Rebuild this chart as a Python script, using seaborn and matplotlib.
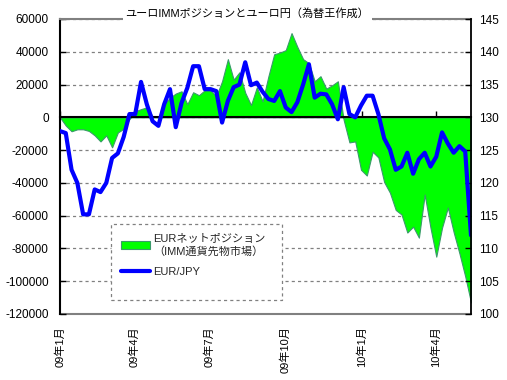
import matplotlib
matplotlib.use("Agg")
import matplotlib.pyplot as plt
import matplotlib.dates as mdates
from matplotlib.patches import Rectangle
import numpy as np
import pandas as pd
import seaborn as sns

# ---- data (weekly) ----
dates = pd.date_range("2009-01-01", periods=72, freq="7D")

net_position = [
    0, -5000, -8500, -7300, -7300, -8300, -11000, -14700, -11000, -18300,
    -9200, -7000, -1000, 3700, 5000, 6100, 600, 0, 8000, 12000,
    14500, 15900, 8000, 15300, 13500, 16500, 16500, 12900, 22000, 35500,
    23000, 27500, 15000, 7500, 18300, 9800, 25000, 38500, 39500, 41000,
    51400, 43000, 35500, 33000, 22000, 25100, 17500, 19500, 22000, -1500,
    -15300, -14700, -32000, -35500, -21000, -24500, -39500, -46000, -56500, -59300,
    -70300, -66700, -73400, -47100, -67300, -85000, -67300, -55000, -70000, -83000,
    -97000, -113000,
]

eurjpy = [
    127.9, 127.6, 122.0, 120.0, 115.2, 115.2, 119.0, 118.6, 120.0, 123.8,
    124.5, 127.0, 130.5, 130.5, 135.4, 132.0, 129.4, 128.7, 132.0, 134.3,
    128.5, 132.2, 134.5, 137.8, 137.8, 134.3, 134.3, 134.0, 129.2, 132.5,
    134.6, 135.0, 138.4, 134.9, 135.3, 133.9, 132.8, 132.5, 134.0, 131.5,
    130.8, 132.3, 135.0, 138.1, 133.0, 133.6, 133.5, 132.0, 129.7, 134.6,
    130.5, 130.0, 131.8, 133.3, 133.3, 130.5, 126.8, 125.1, 122.0, 122.5,
    124.6, 121.4, 123.6, 124.6, 122.5, 124.0, 127.7, 126.0, 124.6, 125.6,
    124.8, 112.0,
]

tick_dates = ["2009-01-01", "2009-04-01", "2009-07-01", "2009-10-01", "2010-01-01", "2010-04-01"]
tick_labels = ["09年1月", "09年4月", "09年7月", "09年10月", "10年1月", "10年4月"]

title = "ユーロIMMポジションとユーロ円（為替王作成）"
label_net = "EURネットポジション\n（IMM通貨先物市場）"
label_fx = "EUR/JPY"

left_ticks = list(range(-120000, 60001, 20000))
right_ticks = list(range(100, 146, 5))

# ---- style ----
sns.set_style("white")
plt.rcParams["font.family"] = ["Liberation Sans", "Noto Sans CJK JP", "DejaVu Sans"]
plt.rcParams["axes.unicode_minus"] = False

fig = plt.figure(figsize=(5.07, 3.80), dpi=100)
ax = fig.add_axes([0.1183, 0.1737, 0.8107, 0.7763])
ax2 = ax.twinx()

# area (net position) on left axis
ax.fill_between(dates, 0, net_position, facecolor="#00FF00", edgecolor="#3A9A6A",
                linewidth=0.8, label=label_net)

# line (EUR/JPY) on right axis
sns.lineplot(x=dates, y=eurjpy, ax=ax2, color="#0000FF", linewidth=3,
             label=label_fx, legend=False)

ax.set_xlim(dates[0], dates[-1])
ax.set_ylim(-120000, 60000)
ax.set_yticks(left_ticks)
ax2.set_ylim(100, 145)
ax2.set_yticks(right_ticks)
ax2.set_ylabel("")
ax2.set_xlabel("")

# grid
ax.set_axisbelow(True)
ax.yaxis.grid(True, color="#808080", linestyle=(0, (2.5, 2.5)), linewidth=0.9)
ax.xaxis.grid(False)
ax2.grid(False)

# spines
ax.spines["bottom"].set_position(("data", 0))
ax.spines["bottom"].set_color("black")
ax.spines["bottom"].set_linewidth(1.5)
ax.spines["left"].set_color("black")
ax.spines["left"].set_linewidth(1.5)
ax.spines["top"].set_color("#808080")
ax.spines["top"].set_linewidth(1.5)
ax.spines["right"].set_visible(False)
for s in ["top", "bottom", "left"]:
    ax2.spines[s].set_visible(False)
ax2.spines["right"].set_color("black")
ax2.spines["right"].set_linewidth(1.3)

# ticks
ax.set_xticks(pd.to_datetime(tick_dates))
ax.tick_params(axis="x", bottom=True, direction="in", length=4, width=1,
               color="black", labelbottom=False)
ax.tick_params(axis="y", left=True, direction="in", length=4, width=1,
               color="black", labelsize=8.5, pad=8, labelcolor="black")
ax2.tick_params(axis="y", right=True, direction="in", length=4, width=1,
                color="black", labelsize=8.5, pad=6, labelcolor="black")
ax2.tick_params(axis="x", bottom=False, labelbottom=False)

sec = ax.secondary_xaxis("bottom")
sec.set_xticks(mdates.date2num(pd.to_datetime(tick_dates)), labels=tick_labels, rotation=90)
sec.tick_params(axis="x", length=0, pad=9, labelsize=8, labelcolor="black")
sec.spines["bottom"].set_color("#808080")
sec.spines["bottom"].set_linewidth(1.5)

# title sitting on the top frame line
ax.text(0.456, 1.0, title, transform=ax.transAxes, ha="center", va="bottom",
        fontsize=8, color="black",
        bbox=dict(facecolor="white", edgecolor="none", pad=2), zorder=5)

# legend box (dashed frame, as in the reference)
box = Rectangle((0.124, 0.047), 0.416, 0.258, transform=ax2.transAxes,
                facecolor="white", edgecolor="#808080", linewidth=0.9,
                linestyle=(0, (2.5, 2.5)), zorder=4)
ax2.add_patch(box)

h1, l1 = ax.get_legend_handles_labels()
h2, l2 = ax2.get_legend_handles_labels()
leg = ax2.legend(h1 + h2, l1 + l2, loc="upper left",
                 bbox_to_anchor=(0.124, 0.305), frameon=False,
                 fontsize=8, handlelength=2.6, borderpad=0.9, labelspacing=0.9,
                 handletextpad=0.3, borderaxespad=0)
leg.set_zorder(5)
for t in leg.get_texts():
    t.set_multialignment("left")

fig.savefig("out.png", dpi=100)
